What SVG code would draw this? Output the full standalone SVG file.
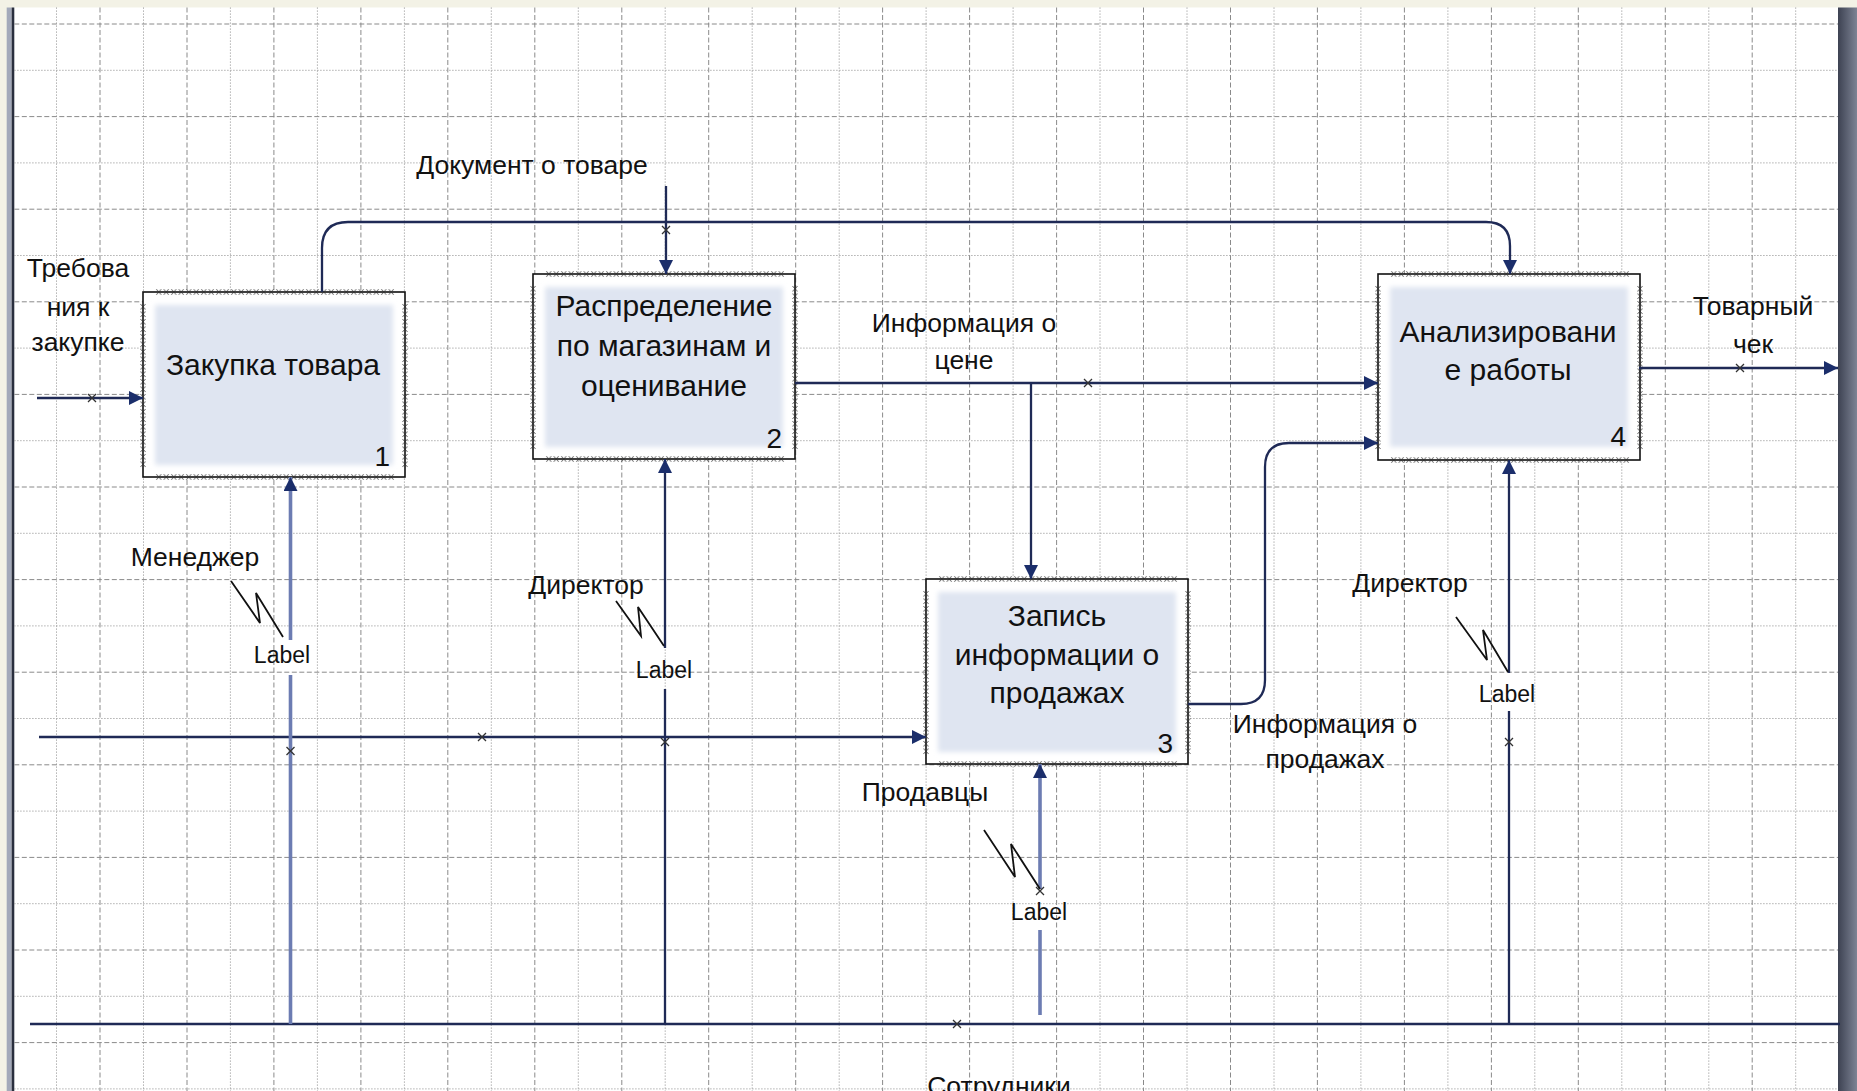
<svg xmlns="http://www.w3.org/2000/svg" width="1857" height="1091" viewBox="0 0 1857 1091">
<defs>
<style>
.t{font-family:"Liberation Sans",Arial,sans-serif;fill:#111}
.lab{font-size:26.5px}
.bt{font-size:30px;text-anchor:middle}
.num{font-size:28px;text-anchor:end}
.lbl{font-size:23px;text-anchor:middle}
.mid{text-anchor:middle}
.gd{stroke:#8a8a8a;stroke-width:1;stroke-dasharray:5 2.5;fill:none}
.gt{stroke:#9c9c9c;stroke-width:1;stroke-dasharray:1.2 1.8;fill:none}
.ln{fill:none;stroke:#1f2a56;stroke-width:2.3}
.mech{fill:none;stroke:#6c7cb2;stroke-width:3.6}
.sq{fill:none;stroke:#111;stroke-width:1.8}
.xm{stroke:#333;stroke-width:1.3;fill:none}
.frame{fill:#fff;stroke:#111;stroke-width:1.6}
.fill{fill:#dfe5f1}
</style>
<marker id="ah" markerUnits="userSpaceOnUse" markerWidth="16" markerHeight="16" refX="14" refY="7" orient="auto"><path d="M0,0 L14,7 L0,14 z" fill="#1b2e6b"/></marker>
<pattern id="st" width="7.5" height="7.5" patternUnits="userSpaceOnUse"><path d="M1.3,1 L6.2,6.5 M6.2,1 L1.3,6.5" stroke="#333" stroke-width="0.85" fill="none"/></pattern>
<filter id="soft" x="-10%" y="-10%" width="120%" height="120%"><feGaussianBlur stdDeviation="2.5"/></filter>
<linearGradient id="rf" x1="0" x2="1" y1="0" y2="0"><stop offset="0" stop-color="#3d4252"/><stop offset="1" stop-color="#7d8394"/></linearGradient>
</defs>

<g id="background">
<rect width="1857" height="1091" fill="#f3f2e6"/>
<rect x="14" y="7.5" width="1824" height="1083.5" fill="#fff"/>
<rect x="6.7" y="7.5" width="5" height="1083.5" fill="#a3a9ba"/>
<rect x="11.7" y="7.5" width="2.6" height="1083.5" fill="#2a2f3e"/>
<rect x="1838" y="7.5" width="19" height="1083.5" fill="url(#rf)"/>
</g>

<g id="grid">
<path class="gd" d="M100,7.5V1091M187,7.5V1091M273.9,7.5V1091M360.9,7.5V1091M447.8,7.5V1091M534.8,7.5V1091M621.8,7.5V1091M708.7,7.5V1091M795.7,7.5V1091M882.6,7.5V1091M969.6,7.5V1091M1056.6,7.5V1091M1143.5,7.5V1091M1230.5,7.5V1091M1317.4,7.5V1091M1404.4,7.5V1091M1491.4,7.5V1091M1578.3,7.5V1091M1665.3,7.5V1091M1752.2,7.5V1091"/>
<path class="gt" d="M56.5,7.5V1091M143.5,7.5V1091M230.4,7.5V1091M317.4,7.5V1091M404.4,7.5V1091M491.3,7.5V1091M578.3,7.5V1091M665.2,7.5V1091M752.2,7.5V1091M839.2,7.5V1091M926.1,7.5V1091M1013.1,7.5V1091M1100,7.5V1091M1187,7.5V1091M1274,7.5V1091M1360.9,7.5V1091M1447.9,7.5V1091M1534.8,7.5V1091M1621.8,7.5V1091M1708.8,7.5V1091M1795.7,7.5V1091"/>
<path class="gd" d="M14.3,24H1838M14.3,116.6H1838M14.3,209.2H1838M14.3,301.8H1838M14.3,394.4H1838M14.3,487H1838M14.3,579.6H1838M14.3,672.2H1838M14.3,764.8H1838M14.3,857.4H1838M14.3,950H1838M14.3,1042.6H1838"/>
<path class="gt" d="M14.3,70.3H1838M14.3,162.9H1838M14.3,255.5H1838M14.3,348.1H1838M14.3,440.7H1838M14.3,533.3H1838M14.3,625.9H1838M14.3,718.5H1838M14.3,811.1H1838M14.3,903.7H1838M14.3,996.3H1838M14.3,1088.9H1838"/>
</g>

<g id="box1" transform="translate(143,292)">
<rect class="frame" width="262" height="185"/>
<rect class="fill" x="12" y="13" width="238" height="160" filter="url(#soft)"/>
<rect transform="translate(12,-3.75)" width="240" height="7.5" fill="url(#st)"/>
<rect transform="translate(12,181.25)" width="240" height="7.5" fill="url(#st)"/>
<rect transform="translate(-3.75,11)" width="7.5" height="165" fill="url(#st)"/>
<rect transform="translate(258.25,11)" width="7.5" height="165" fill="url(#st)"/>
<text class="t bt" x="130" y="83">Закупка товара</text>
<text class="t num" x="247" y="174">1</text>
</g>

<g id="box2" transform="translate(533,274)">
<rect class="frame" width="262" height="185"/>
<rect class="fill" x="12" y="13" width="238" height="160" filter="url(#soft)"/>
<rect transform="translate(12,-3.75)" width="240" height="7.5" fill="url(#st)"/>
<rect transform="translate(12,181.25)" width="240" height="7.5" fill="url(#st)"/>
<rect transform="translate(-3.75,11)" width="7.5" height="165" fill="url(#st)"/>
<rect transform="translate(258.25,11)" width="7.5" height="165" fill="url(#st)"/>
<text class="t bt" x="131" y="42">Распределение</text>
<text class="t bt" x="131" y="82">по магазинам и</text>
<text class="t bt" x="131" y="122">оценивание</text>
<text class="t num" x="249" y="174">2</text>
</g>

<g id="box3" transform="translate(926,579)">
<rect class="frame" width="262" height="185"/>
<rect class="fill" x="12" y="13" width="238" height="160" filter="url(#soft)"/>
<rect transform="translate(12,-3.75)" width="240" height="7.5" fill="url(#st)"/>
<rect transform="translate(12,181.25)" width="240" height="7.5" fill="url(#st)"/>
<rect transform="translate(-3.75,11)" width="7.5" height="165" fill="url(#st)"/>
<rect transform="translate(258.25,11)" width="7.5" height="165" fill="url(#st)"/>
<text class="t bt" x="131" y="47">Запись</text>
<text class="t bt" x="131" y="86">информации о</text>
<text class="t bt" x="131" y="124">продажах</text>
<text class="t num" x="247" y="174">3</text>
</g>

<g id="box4" transform="translate(1378,274)">
<rect class="frame" width="262" height="186"/>
<rect class="fill" x="12" y="13" width="238" height="160" filter="url(#soft)"/>
<rect transform="translate(12,-3.75)" width="240" height="7.5" fill="url(#st)"/>
<rect transform="translate(12,182.25)" width="240" height="7.5" fill="url(#st)"/>
<rect transform="translate(-3.75,11)" width="7.5" height="165" fill="url(#st)"/>
<rect transform="translate(258.25,11)" width="7.5" height="165" fill="url(#st)"/>
<text class="t bt" x="130" y="68">Анализировани</text>
<text class="t bt" x="130" y="106">е работы</text>
<text class="t num" x="248" y="172">4</text>
</g>

<g id="connectors">
<path class="ln" d="M322,292 V248 Q322,222 348,222 H1486 Q1510,222 1510,246 V274" marker-end="url(#ah)"/>
<path class="ln" d="M666,186 V274" marker-end="url(#ah)"/>
<path class="ln" d="M37,398 H143" marker-end="url(#ah)"/>
<path class="ln" d="M795,383 H1378" stroke="#2a3a70" marker-end="url(#ah)"/>
<path class="ln" d="M1031,383 V579" stroke-width="1.8" marker-end="url(#ah)"/>
<path class="ln" d="M1639,368 H1838" marker-end="url(#ah)"/>
<path class="ln" d="M1188,704 H1241 Q1265,704 1265,680 V467 Q1265,443 1289,443 H1378" stroke="#34426e" stroke-width="2.6" marker-end="url(#ah)"/>
<path class="ln" d="M39,737 H926" stroke="#2c3a6a" marker-end="url(#ah)"/>
<path class="ln" d="M30,1024 H1840"/>
<path class="mech" d="M290.5,1024 V675"/>
<path class="mech" d="M290.5,640 V477" marker-end="url(#ah)"/>
<path class="ln" d="M665,1024 V689"/>
<path class="ln" d="M665,648 V459" marker-end="url(#ah)"/>
<path class="mech" d="M1040,1015 V930" stroke="#5d6d98"/>
<path class="mech" d="M1040,889 V764" stroke="#5d6d98" marker-end="url(#ah)"/>
<path class="ln" d="M1509,1024 V711"/>
<path class="ln" d="M1509,673 V460" marker-end="url(#ah)"/>
<path class="sq" d="M231,581 L260,623 L256,593 L283,637"/>
<path class="sq" d="M616,601 L641,636 L638,607 L664,646"/>
<path class="sq" d="M984,830 L1015,877 L1011,844 L1040,889"/>
<path class="sq" d="M1456,617 L1487,660 L1483,630 L1508,672"/>
<path class="xm" d="M88,394 l8,8 m0,-8 l-8,8"/>
<path class="xm" d="M662,226 l8,8 m0,-8 l-8,8"/>
<path class="xm" d="M1084,379 l8,8 m0,-8 l-8,8"/>
<path class="xm" d="M1736,364 l8,8 m0,-8 l-8,8"/>
<path class="xm" d="M286.5,747 l8,8 m0,-8 l-8,8"/>
<path class="xm" d="M478,733 l8,8 m0,-8 l-8,8"/>
<path class="xm" d="M661,738 l8,8 m0,-8 l-8,8"/>
<path class="xm" d="M1036,887 l8,8 m0,-8 l-8,8"/>
<path class="xm" d="M1505,738 l8,8 m0,-8 l-8,8"/>
<path class="xm" d="M953,1020 l8,8 m0,-8 l-8,8"/>
</g>

<g id="labels">
<text class="t lab mid" x="532" y="174">Документ о товаре</text>
<text class="t lab mid" x="78" y="277">Требова</text>
<text class="t lab mid" x="78" y="316">ния к</text>
<text class="t lab mid" x="78" y="351">закупке</text>
<text class="t lab mid" x="964" y="332">Информация о</text>
<text class="t lab mid" x="964" y="369">цене</text>
<text class="t lab mid" x="1753" y="315">Товарный</text>
<text class="t lab mid" x="1753" y="353">чек</text>
<text class="t lab mid" x="195" y="566">Менеджер</text>
<text class="t lbl" x="282" y="663">Label</text>
<text class="t lab mid" x="586" y="594">Директор</text>
<text class="t lbl" x="664" y="678">Label</text>
<text class="t lab mid" x="1410" y="592">Директор</text>
<text class="t lbl" x="1507" y="702">Label</text>
<text class="t lab mid" x="925" y="801">Продавцы</text>
<text class="t lbl" x="1039" y="920">Label</text>
<text class="t lab mid" x="1325" y="733">Информация о</text>
<text class="t lab mid" x="1325" y="768">продажах</text>
<text class="t lab mid" x="999" y="1095">Сотрудники</text>
</g>
</svg>
